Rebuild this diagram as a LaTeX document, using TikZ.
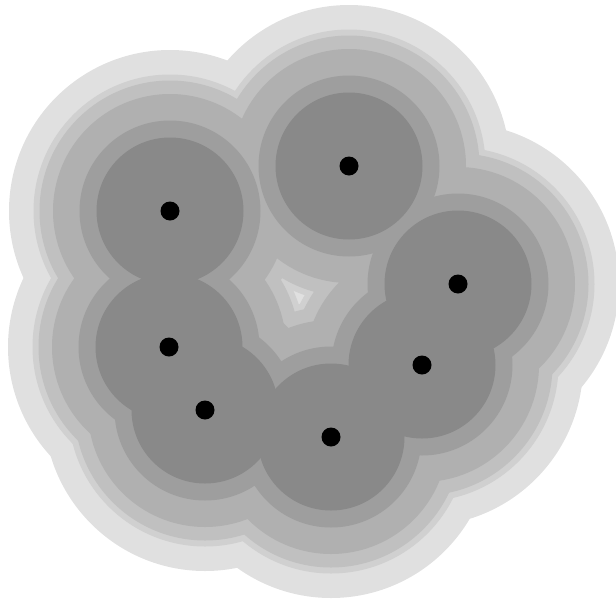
\documentclass[tikz,border=0pt]{standalone}
\begin{document}
\begin{tikzpicture}[x=1pt,y=-1pt]
\useasboundingbox (0,0) rectangle (616,600);
\definecolor{lA}{HTML}{E0E0E0}
\definecolor{lB}{HTML}{D0D0D0}
\definecolor{lC}{HTML}{C0C0C0}
\definecolor{lD}{HTML}{B0B0B0}
\definecolor{lE}{HTML}{9E9E9E}
\definecolor{lF}{HTML}{898989}
\def\pts{170/211,349/166,458/284,169/347,422/365,205/410,331/437}
\foreach \r/\c in {161/lA,136.5/lB,130.5/lC,117/lD,90.5/lE,73.5/lF}{
  \foreach \px/\py in \pts { \fill[\c] (\px,\py) circle[radius=\r pt]; }
}
\foreach \px/\py [count=\i] in \pts { \node[circle,fill=black,inner sep=0pt,minimum size=19pt] (p\i) at (\px,\py) {}; }
\end{tikzpicture}
\end{document}
